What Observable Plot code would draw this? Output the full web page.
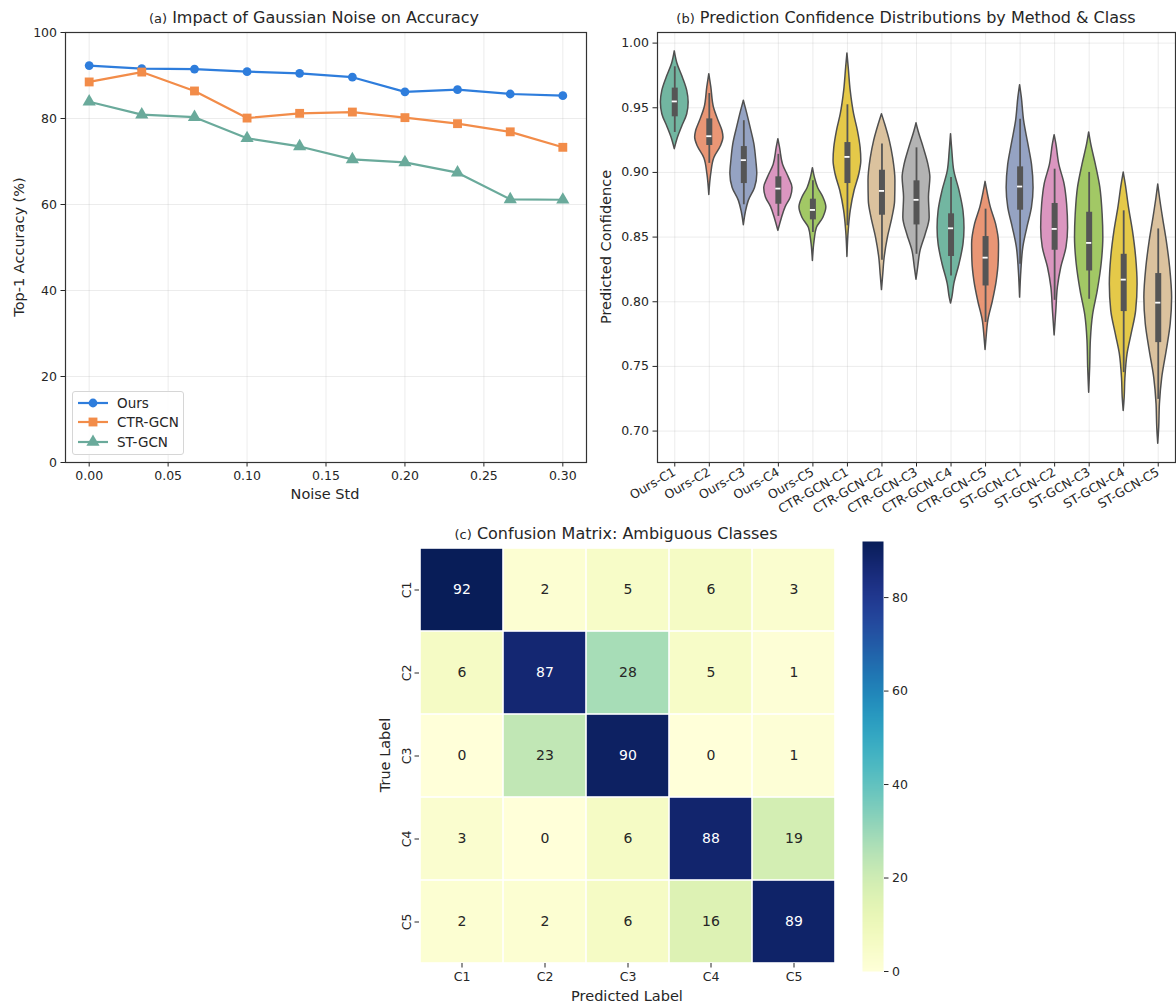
<!DOCTYPE html>
<html><head><meta charset="utf-8">
<script src="https://cdn.jsdelivr.net/npm/d3@7"></script>
<script src="https://cdn.jsdelivr.net/npm/@observablehq/plot@0.6"></script>
<style>
body{margin:0;background:#fff;}
#fig{position:relative;width:1176px;height:1005px;overflow:hidden;font-family:"DejaVu Sans",sans-serif;color:#262626;background:#fff;}
.t{position:absolute;white-space:nowrap;line-height:1;}
.title{font-size:16px;}
.title .tag{font-size:13px;}
.lab{font-size:14.5px;}
.leg{position:absolute;border:1px solid #d6d6d6;border-radius:3px;background:rgba(255,255,255,0.85);box-sizing:border-box;}
.legrow{position:absolute;left:0;height:16px;display:flex;align-items:center;font-size:13.5px;}
</style></head><body><div id="fig"></div>
<script>
// ---------- data: panel (a)
const noiseStd = [0, 0.0333, 0.0667, 0.1, 0.1333, 0.1667, 0.2, 0.2333, 0.2667, 0.3];
const accOurs = [92.3, 91.6, 91.5, 90.9, 90.5, 89.6, 86.2, 86.7, 85.7, 85.3];
const accCTR  = [88.5, 90.8, 86.4, 80.1, 81.2, 81.5, 80.2, 78.8, 76.9, 73.3];
const accST   = [83.9, 80.9, 80.3, 75.4, 73.5, 70.5, 69.8, 67.4, 61.2, 61.1];
const methods = ["Ours", "CTR-GCN", "ST-GCN"];
const xTicksA = [0, 0.05, 0.1, 0.15, 0.2, 0.25, 0.3];
const yTicksA = [0, 20, 40, 60, 80, 100];

// ---------- data: panel (b)
const violinNames = ["Ours-C1","Ours-C2","Ours-C3","Ours-C4","Ours-C5",
  "CTR-GCN-C1","CTR-GCN-C2","CTR-GCN-C3","CTR-GCN-C4","CTR-GCN-C5",
  "ST-GCN-C1","ST-GCN-C2","ST-GCN-C3","ST-GCN-C4","ST-GCN-C5"];
const whiskerLow  = [0.9309,0.907,0.875,0.866,0.8535, 0.8587,0.832,0.8367,0.820,0.784, 0.829,0.8011,0.8019,0.7452,0.7245];
const quartile1   = [0.943,0.9208,0.8914,0.8754,0.8633, 0.8914,0.8669,0.8594,0.835,0.8122, 0.8708,0.8398,0.8238,0.7924,0.7684];
const medians     = [0.9549,0.928,0.9095,0.8875,0.871, 0.912,0.8857,0.8788,0.8568,0.8341, 0.8891,0.8563,0.8455,0.8171,0.7993];
const quartile3   = [0.9652,0.9414,0.920,0.8966,0.8793, 0.9231,0.9017,0.8935,0.868,0.8504, 0.9043,0.876,0.8692,0.8367,0.8218];
const whiskerHigh = [0.9817,0.961,0.940,0.914,0.8935, 0.9523,0.922,0.919,0.896,0.8716, 0.9412,0.9025,0.900,0.8703,0.8563];
// [confidence, relative density]
const violinProfiles = [
  [[0.9936,0],[0.984,0.19],[0.973,0.58],[0.963,0.88],[0.954,0.98],[0.945,0.88],[0.935,0.51],[0.927,0.23],[0.918,0]],
  [[0.976,0],[0.966,0.14],[0.950,0.33],[0.940,0.65],[0.932,0.93],[0.927,1.0],[0.920,0.81],[0.911,0.35],[0.899,0.14],[0.8826,0]],
  [[0.9554,0],[0.9476,0.19],[0.935,0.47],[0.922,0.74],[0.909,0.88],[0.8986,0.95],[0.888,0.79],[0.878,0.35],[0.869,0.14],[0.8592,0]],
  [[0.9257,0],[0.919,0.12],[0.906,0.33],[0.896,0.74],[0.888,1.0],[0.8806,0.88],[0.873,0.51],[0.8638,0.23],[0.8548,0]],
  [[0.9033,0],[0.896,0.14],[0.888,0.37],[0.8806,0.74],[0.873,0.95],[0.865,0.74],[0.857,0.28],[0.847,0.12],[0.8316,0]],
  [[0.992,0],[0.981,0.09],[0.963,0.23],[0.945,0.47],[0.932,0.74],[0.919,0.93],[0.909,0.98],[0.8986,0.84],[0.886,0.51],[0.870,0.23],[0.855,0.09],[0.8347,0]],
  [[0.945,0],[0.937,0.23],[0.924,0.56],[0.911,0.79],[0.8935,0.95],[0.878,0.93],[0.865,0.74],[0.8496,0.42],[0.834,0.19],[0.821,0.09],[0.809,0]],
  [[0.938,0],[0.932,0.14],[0.919,0.51],[0.906,0.84],[0.896,0.98],[0.8806,0.88],[0.865,0.93],[0.852,0.65],[0.839,0.28],[0.8265,0.12],[0.817,0]],
  [[0.9296,0],[0.9167,0.09],[0.901,0.23],[0.8857,0.60],[0.870,0.88],[0.857,0.95],[0.8445,0.88],[0.829,0.60],[0.8135,0.23],[0.803,0.09],[0.7986,0]],
  [[0.8927,0],[0.8857,0.12],[0.873,0.37],[0.860,0.74],[0.8445,0.95],[0.8316,0.93],[0.816,0.79],[0.800,0.51],[0.7851,0.19],[0.772,0.07],[0.7627,0]],
  [[0.9675,0],[0.958,0.12],[0.940,0.28],[0.922,0.58],[0.906,0.84],[0.888,0.95],[0.873,0.84],[0.857,0.51],[0.842,0.23],[0.824,0.09],[0.8032,0]],
  [[0.9288,0],[0.922,0.12],[0.906,0.33],[0.891,0.70],[0.8754,0.88],[0.857,0.95],[0.842,0.84],[0.8265,0.47],[0.811,0.23],[0.7931,0.12],[0.774,0]],
  [[0.9309,0],[0.922,0.14],[0.906,0.47],[0.888,0.79],[0.8676,0.95],[0.8496,1.0],[0.829,0.88],[0.808,0.60],[0.790,0.28],[0.770,0.12],[0.749,0.07],[0.7297,0]],
  [[0.8999,0],[0.891,0.14],[0.873,0.37],[0.8548,0.65],[0.834,0.88],[0.8135,0.98],[0.793,0.88],[0.775,0.56],[0.760,0.28],[0.741,0.12],[0.726,0.07],[0.7155,0]],
  [[0.8906,0],[0.8806,0.12],[0.8652,0.33],[0.847,0.60],[0.8264,0.84],[0.803,0.98],[0.7826,0.88],[0.762,0.60],[0.741,0.28],[0.721,0.12],[0.703,0.07],[0.6902,0]]
];
const yTicksB = [0.70, 0.75, 0.80, 0.85, 0.90, 0.95, 1.00];

// ---------- data: panel (c)
const classes = ["C1","C2","C3","C4","C5"];
const confusion = [
  [92, 2, 5, 6, 3],
  [6, 87, 28, 5, 1],
  [0, 23, 90, 0, 1],
  [3, 0, 6, 88, 19],
  [2, 2, 6, 16, 89]
];
const cbarTicks = [0, 20, 40, 60, 80];

// ---------- styles
const methodColors = ["#2e7ddc", "#f28c49", "#6aaa9b"];
const methodSymbols = ["circle", "square", "triangle"];
const symbolRadius = [4.4, 5.0, 4.9];
const set2 = ["#66c2a5","#fc8d62","#8da0cb","#e78ac3","#a6d854","#ffd92f","#e5c494","#b3b3b3"];
const violinColors = violinNames.map((_, i) => { const h = d3.hsl(set2[i % 8]); h.s *= 0.75; return h.formatHex(); });
const ink = "#262626";
const gridStyle = {stroke: "#b0b0b0", strokeOpacity: 0.3, strokeWidth: 0.8};
const baseStyle = {fontFamily: "DejaVu Sans", fontSize: "12.5px", color: ink, background: "transparent", overflow: "visible"};

const fig = document.getElementById("fig");
function place(el, left, top) { el.style.position = "absolute"; el.style.left = left + "px"; el.style.top = top + "px"; fig.appendChild(el); }
function label(html, cx, cy, cls, rot) {
  const d = document.createElement("div");
  d.className = "t " + cls;
  d.innerHTML = html;
  d.style.left = cx + "px"; d.style.top = cy + "px";
  d.style.transform = "translate(-50%,-50%)" + (rot ? " rotate(" + rot + "deg)" : "");
  fig.appendChild(d);
}

// ---------- panel (a)
const accSeries = [accOurs, accCTR, accST];
const accTable = methods.flatMap((m, k) => noiseStd.map((x, j) => ({method: m, x, y: accSeries[k][j]})));
const plotA = Plot.plot({
  width: 600, height: 510, marginLeft: 65, marginRight: 14, marginTop: 32, marginBottom: 48,
  style: baseStyle,
  x: {domain: [-0.015, 0.315]},
  y: {domain: [0, 100]},
  color: {domain: methods, range: methodColors},
  symbol: {domain: methods, range: methodSymbols},
  marks: [
    Plot.gridX({ticks: xTicksA, ...gridStyle}),
    Plot.gridY({ticks: yTicksA, ...gridStyle}),
    Plot.axisX({ticks: xTicksA, tickFormat: d3.format(".2f"), tickSize: 4.5, tickPadding: 4, label: null}),
    Plot.axisY({ticks: yTicksA, tickSize: 4.5, tickPadding: 4, label: null}),
    Plot.line(accTable, {x: "x", y: "y", stroke: "method", strokeWidth: 2.2}),
    ...methods.map((m, k) => Plot.dot(accTable.filter(d => d.method === m), {x: "x", y: "y", fill: "method", symbol: "method", r: symbolRadius[k]})),
    Plot.frame({stroke: "#333", strokeWidth: 1.2})
  ]
});
place(plotA, 0, 0);
label('<span class="tag">(a)</span> Impact of Gaussian Noise on Accuracy', 314, 18, "title");
label("Noise Std", 325, 494, "lab");
label("Top-1 Accuracy (%)", 19, 247, "lab", -90);

// legend for (a)
const leg = document.createElement("div");
leg.className = "leg";
leg.style.width = "112px"; leg.style.height = "64px";
methods.forEach((m, k) => {
  const row = document.createElement("div");
  row.className = "legrow";
  row.style.top = (3 + k * 19.3) + "px";
  const sym = d3.symbol({circle: d3.symbolCircle, square: d3.symbolSquare, triangle: d3.symbolTriangle}[methodSymbols[k]], Math.PI * symbolRadius[k] * symbolRadius[k])();
  row.innerHTML = `<svg width="42" height="16" style="margin-left:2px"><line x1="3" x2="33" y1="8" y2="8" stroke="${methodColors[k]}" stroke-width="2.2"/><path transform="translate(18,8)" d="${sym}" fill="${methodColors[k]}"/></svg><span>${m}</span>`;
  leg.appendChild(row);
});
place(leg, 72, 391);

// ---------- panel (b)
const vHalf = 0.41;
const violinTable = violinNames.flatMap((n, i) => violinProfiles[i].map(([v, d]) => ({name: n, i, v, x1: i - d * vHalf, x2: i + d * vHalf, color: violinColors[i]})));
const boxTable = violinNames.map((n, i) => ({name: n, i, lo: whiskerLow[i], q1: quartile1[i], med: medians[i], q3: quartile3[i], hi: whiskerHigh[i]}));
const plotB = Plot.plot({
  width: 586, height: 530, marginLeft: 67, marginRight: 1, marginTop: 32, marginBottom: 68,
  style: baseStyle,
  x: {domain: [-0.5, violinNames.length - 0.5]},
  y: {domain: [0.6757, 1.0082]},
  color: {type: "identity"},
  marks: [
    Plot.gridX({ticks: d3.range(violinNames.length), ...gridStyle}),
    Plot.gridY({ticks: yTicksB, ...gridStyle}),
    Plot.axisX({ticks: d3.range(violinNames.length), tickFormat: i => violinNames[i], tickRotate: -30, tickSize: 4.5, tickPadding: 4, label: null}),
    Plot.axisY({ticks: yTicksB, tickFormat: d3.format(".2f"), tickSize: 4.5, tickPadding: 4, label: null}),
    Plot.areaX(violinTable, {y: "v", x1: "x1", x2: "x2", z: "name", fill: "color", stroke: "#4f4f4f", strokeWidth: 1.5, curve: "monotone-y"}),
    Plot.ruleX(boxTable, {x: "i", y1: "lo", y2: "hi", stroke: "#555", strokeWidth: 1.8}),
    Plot.ruleX(boxTable, {x: "i", y1: "q1", y2: "q3", stroke: "#555", strokeWidth: 6}),
    Plot.ruleY(boxTable, {y: "med", x1: d => d.i - 0.075, x2: d => d.i + 0.075, stroke: "white", strokeWidth: 1.8}),
    Plot.frame({stroke: "#333", strokeWidth: 1.2})
  ]
});
place(plotB, 590, 0);
label('<span class="tag">(b)</span> Prediction Confidence Distributions by Method &amp; Class', 906, 18, "title");
label("Predicted Confidence", 606, 247, "lab", -90);

// ---------- panel (c)
const cmTable = confusion.flatMap((row, r) => row.map((v, c) => ({trueLabel: classes[r], pred: classes[c], value: v})));
const plotC = Plot.plot({
  width: 480, height: 485, marginLeft: 49, marginRight: 15, marginTop: 28, marginBottom: 42,
  style: baseStyle,
  x: {domain: classes, padding: 0},
  y: {domain: classes, padding: 0},
  color: {type: "linear", scheme: "YlGnBu", domain: [0, 92]},
  marks: [
    Plot.cell(cmTable, {x: "pred", y: "trueLabel", fill: "value", inset: 0.8}),
    Plot.text(cmTable.filter(d => d.value > 50), {x: "pred", y: "trueLabel", text: "value", fill: "white", fontSize: 14}),
    Plot.text(cmTable.filter(d => d.value <= 50), {x: "pred", y: "trueLabel", text: "value", fill: ink, fontSize: 14}),
    Plot.axisX({tickSize: 4.5, tickPadding: 4, label: null}),
    Plot.axisY({tickSize: 4.5, tickPadding: 4, tickRotate: -90, label: null})
  ]
});
place(plotC, 370, 520);
label('<span class="tag">(c)</span> Confusion Matrix: Ambiguous Classes', 616, 534, "title");
label("Predicted Label", 627, 996, "lab");
label("True Label", 385, 755, "lab", -90);

// colorbar
const plotCb = Plot.plot({
  width: 80, height: 485, marginLeft: 12, marginRight: 47, marginTop: 21, marginBottom: 34,
  style: baseStyle,
  x: {domain: [0, 1], axis: null},
  y: {domain: [0, 92]},
  color: {type: "linear", scheme: "YlGnBu", domain: [0, 92]},
  marks: [
    Plot.raster({fill: (x, y) => y, x1: 0, x2: 1, y1: 0, y2: 92, width: 2, height: 430, imageRendering: "auto"}),
    Plot.axisY({anchor: "right", ticks: cbarTicks, tickSize: 4.5, tickPadding: 4, label: null})
  ]
});
place(plotCb, 850, 520);
</script></body></html>
